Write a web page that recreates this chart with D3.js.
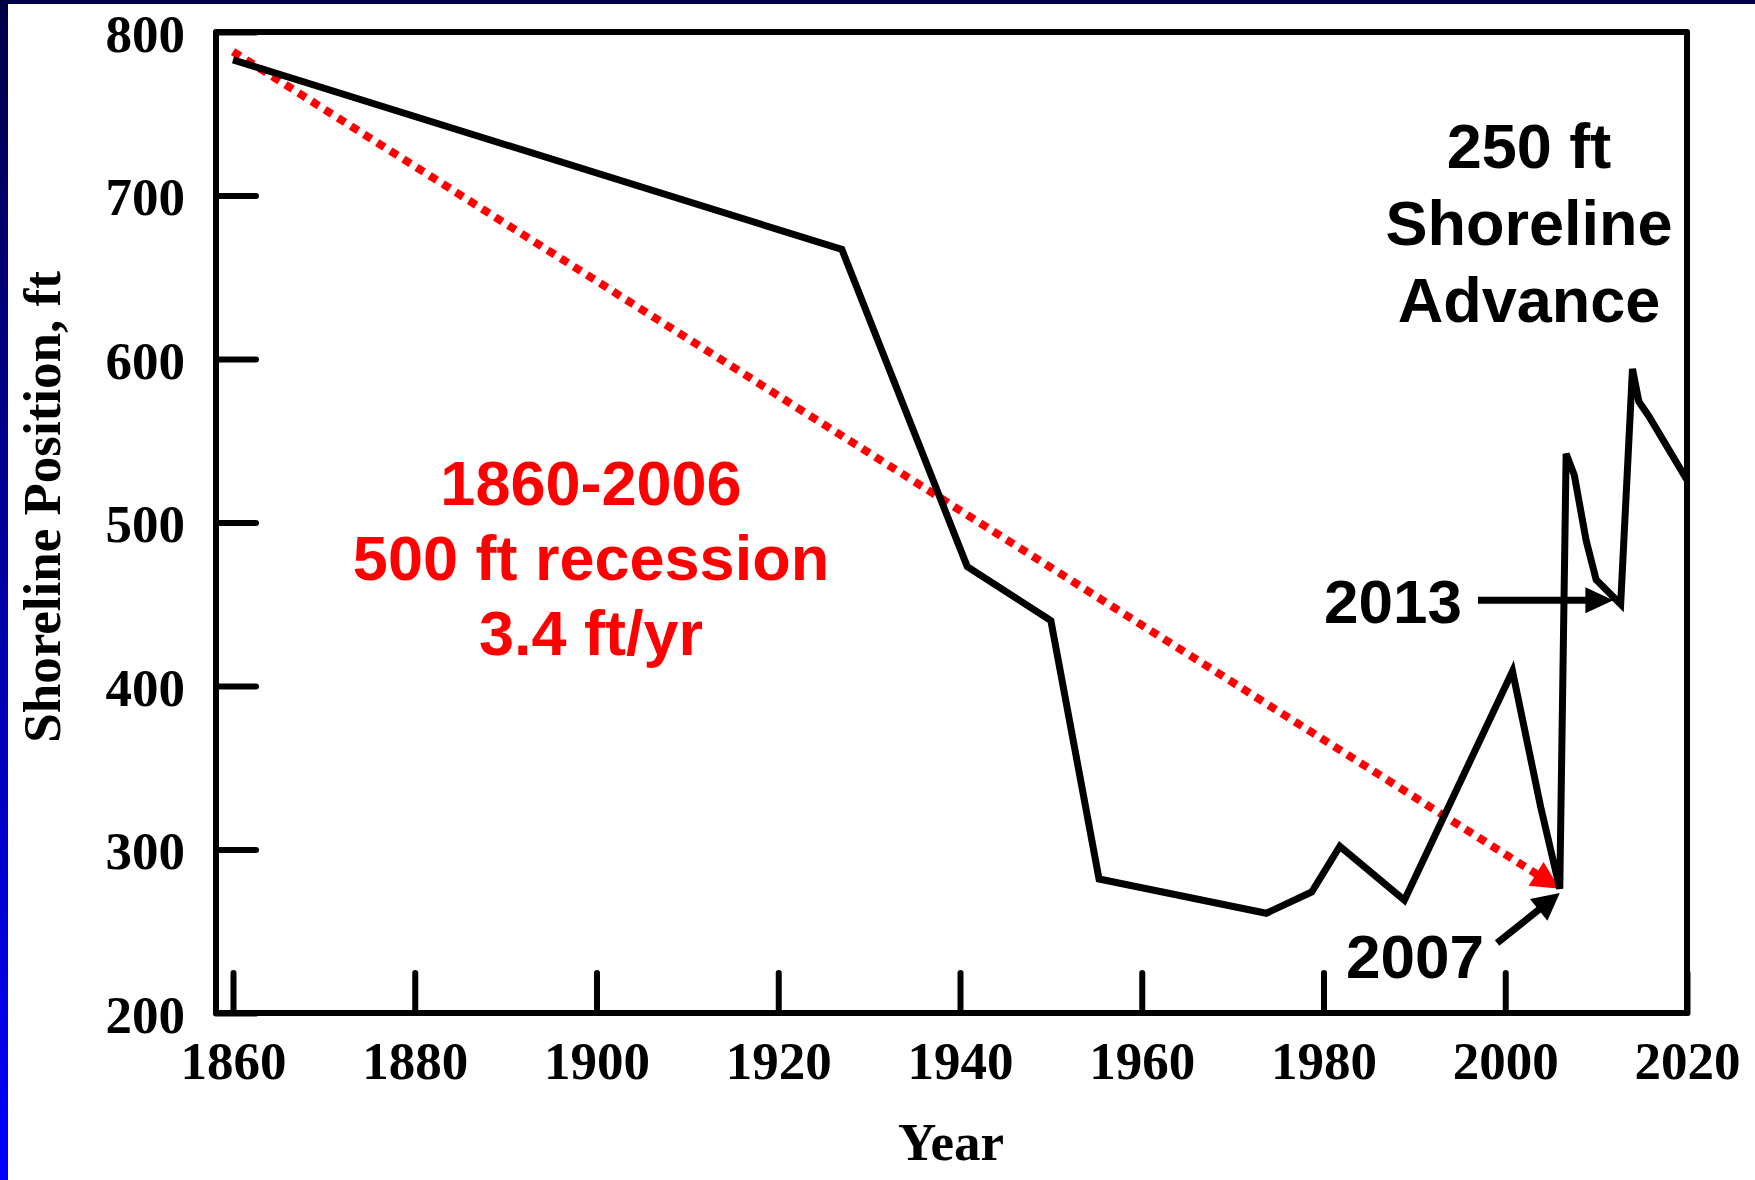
<!DOCTYPE html>
<html>
<head>
<meta charset="utf-8">
<title>Shoreline Position</title>
<script src="https://d3js.org/d3.v7.min.js"></script>
<style>
  body { margin: 0; background: #fff; }
</style>
</head>
<body>
<div id="chart"></div>
<script>
// shoreline position (year, ft)
var years = [1860, 1927, 1940.8, 1950, 1955.3, 1973.7, 1978.7, 1981.8, 1988.9, 2000.8,
             2003.9, 2006, 2006.7, 2007.6, 2008.9, 2010, 2012.7, 2014, 2014.7, 2015.8, 2020];
var positions = [783, 667, 473, 440, 282, 261, 274, 302, 269, 409,
                 326, 276, 542, 529, 489, 465, 450, 594, 574, 565, 526];

// red trend arrow 1860-2006
var trendYears = [1860, 2006];
var trendValues = [788, 276];

var xTicks = [1860, 1880, 1900, 1920, 1940, 1960, 1980, 2000, 2020];
var yTicks = [200, 300, 400, 500, 600, 700, 800];

var redLines = ["1860-2006", "500 ft recession", "3.4 ft/yr"];
var advanceLines = ["250 ft", "Shoreline", "Advance"];

var W = 1755, H = 1180;
var serif = "'Liberation Serif', 'Times New Roman', serif";
var sans = "'Liberation Sans', Arial, sans-serif";

var x = d3.scaleLinear().domain([1860, 2020]).range([233, 1687]);
var y = d3.scaleLinear().domain([200, 800]).range([1013, 32]);

var svg = d3.select("#chart").append("svg")
  .attr("width", W)
  .attr("height", H);

// background: blue gradient edge, white picture
var grad = svg.append("defs").append("linearGradient")
  .attr("id", "bg").attr("x1", 0).attr("y1", 0).attr("x2", 0).attr("y2", 1);
grad.append("stop").attr("offset", "0%").attr("stop-color", "#000048");
grad.append("stop").attr("offset", "100%").attr("stop-color", "#0000ff");

svg.append("rect").attr("width", W).attr("height", H).attr("fill", "url(#bg)");
svg.append("rect").attr("x", 8).attr("y", 4).attr("width", W - 8).attr("height", H - 4).attr("fill", "#fff");

// frame
var frameL = x.range()[0] - 17, frameR = x.range()[1];
var frameT = y.range()[1], frameB = y.range()[0];
svg.append("rect")
  .attr("x", frameL).attr("y", frameT)
  .attr("width", frameR - frameL).attr("height", frameB - frameT)
  .attr("fill", "none")
  .attr("stroke", "#000")
  .attr("stroke-width", 6)
  .attr("stroke-linejoin", "round");

// axes with inward ticks
var xAxis = d3.axisBottom(x).tickValues(xTicks).tickFormat(d3.format("d"))
  .tickSizeInner(-40).tickSizeOuter(0).tickPadding(28);
var gx = svg.append("g").attr("transform", "translate(0," + frameB + ")").call(xAxis);

var yAxis = d3.axisLeft(y).tickValues(yTicks).tickFormat(d3.format("d"))
  .tickSizeInner(-40).tickSizeOuter(0).tickPadding(31);
var gy = svg.append("g").attr("transform", "translate(" + frameL + ",0)").call(yAxis);

[gx, gy].forEach(function(g){
  g.select(".domain").remove();
  g.selectAll(".tick line")
    .attr("stroke", "#000")
    .attr("stroke-width", 6)
    .attr("stroke-linecap", "round");
  g.selectAll(".tick text")
    .attr("fill", "#000")
    .style("font-family", serif)
    .style("font-weight", "bold")
    .style("font-size", "53px");
});
gx.selectAll(".tick text").attr("dy", "0.71em");
gy.selectAll(".tick text").attr("dy", "0.36em");

// axis titles
svg.append("text")
  .text("Year")
  .attr("x", 951).attr("y", 1160)
  .attr("text-anchor", "middle")
  .style("font-family", serif).style("font-weight", "bold").style("font-size", "53px");

svg.append("text")
  .text("Shoreline Position, ft")
  .attr("transform", "translate(60,507) rotate(-90)")
  .attr("text-anchor", "middle")
  .style("font-family", serif).style("font-weight", "bold").style("font-size", "53px");

// arrow helper: shaft plus filled triangular head
function arrow(x1, y1, x2, y2, color, width, headLen, headHalf, dash){
  var dx = x2 - x1, dy = y2 - y1;
  var len = Math.sqrt(dx * dx + dy * dy);
  var ux = dx / len, uy = dy / len;
  var bx = x2 - ux * headLen, by = y2 - uy * headLen;
  var shaft = svg.append("line")
    .attr("x1", x1).attr("y1", y1)
    .attr("x2", bx + ux * 2).attr("y2", by + uy * 2)
    .attr("stroke", color)
    .attr("stroke-width", width);
  if (dash) shaft.attr("stroke-dasharray", dash);
  svg.append("polygon")
    .attr("points", [
      [x2, y2],
      [bx - uy * headHalf, by + ux * headHalf],
      [bx + uy * headHalf, by - ux * headHalf]
    ].map(function(p){ return p.join(","); }).join(" "))
    .attr("fill", color);
}

// red trend
arrow(x(trendYears[0]), y(trendValues[0]), x(trendYears[1]), y(trendValues[1]),
      "#ff0000", 8, 28, 14, "8.5 7");

// shoreline data line
var line = d3.line()
  .x(function(d, i){ return x(years[i]); })
  .y(function(d){ return y(d); });

svg.append("path")
  .attr("d", line(positions))
  .attr("fill", "none")
  .attr("stroke", "#000")
  .attr("stroke-width", 7)
  .attr("stroke-linejoin", "miter");

// annotation arrows
arrow(x(1997), y(452.5), x(2011.9), y(452.5), "#000", 7, 28, 13);
arrow(x(1999.1), y(242.8), x(2006), y(273.4), "#000", 7, 27, 14);

// annotation text
svg.append("text").text("2013")
  .attr("x", 1462).attr("y", 623).attr("text-anchor", "end")
  .style("font-family", sans).style("font-weight", "bold").style("font-size", "62px");
svg.append("text").text("2007")
  .attr("x", 1415).attr("y", 978).attr("text-anchor", "middle")
  .style("font-family", sans).style("font-weight", "bold").style("font-size", "62px");

svg.selectAll("text.red").data(redLines).enter().append("text")
  .attr("class", "red")
  .text(function(d){ return d; })
  .attr("x", 591)
  .attr("y", function(d, i){ return 505 + i * 75; })
  .attr("text-anchor", "middle")
  .attr("fill", "#ff0000")
  .style("font-family", sans).style("font-weight", "bold").style("font-size", "63px");

svg.selectAll("text.adv").data(advanceLines).enter().append("text")
  .attr("class", "adv")
  .text(function(d){ return d; })
  .attr("x", 1529)
  .attr("y", function(d, i){ return 168 + i * 77; })
  .attr("text-anchor", "middle")
  .attr("fill", "#000")
  .style("font-family", sans).style("font-weight", "bold").style("font-size", "63px");
</script>
</body>
</html>
